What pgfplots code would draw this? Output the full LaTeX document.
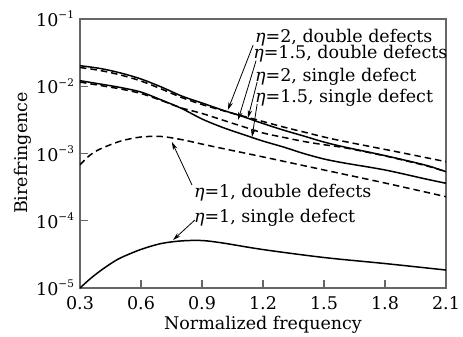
\documentclass[border=0pt]{standalone}
\usepackage{fontspec}
\setmainfont{DejaVu Serif}
\usepackage{pgfplots}
\pgfplotsset{compat=1.18}
\usetikzlibrary{arrows.meta}
\newcommand{\tp}[1]{10\raisebox{0.45em}{\fontsize{10.5}{10.5}\selectfont #1}}
\newcommand{\et}{{\itshape η}}
\begin{document}
\fontsize{17.5}{21}\selectfont
\begin{tikzpicture}
\useasboundingbox (-80pt,-49pt) rectangle (383pt,288pt);
\begin{axis}[
  at={(0pt,0pt)}, anchor=south west,
  scale only axis, width=366pt, height=269pt,
  ymode=log, xmin=0.3, xmax=2.1, ymin=1e-5, ymax=1e-1,
  xtick={0.3,0.6,0.9,1.2,1.5,1.8,2.1},
  xticklabels={0.3,0.6,0.9,1.2,1.5,1.8,2.1},
  ytick={1e-5,1e-4,1e-3,1e-2,1e-1},
  yticklabels={\tp{−5},\tp{−4},\tp{−3},\tp{−2},\tp{−1}},
  yminorticks=false,
  xtick pos=bottom, ytick pos=left,
  tick align=inside, major tick length=8pt,
  axis line style={black!60, line width=1.1pt},
  tick style={black!60, line width=1.1pt},
  xticklabel style={yshift=-2pt},
  xlabel={Normalized frequency}, ylabel={Birefringence},
  xlabel style={at={(axis description cs:0.5,-0.1375)}, anchor=center},
  ylabel style={at={(axis description cs:-0.156,0.502)}, anchor=center},
  clip mode=individual,
]
\pgfplotsset{sol/.style={black, solid, no markers, line width=1.5pt, smooth}, das/.style={black, no markers, line width=1.5pt, smooth, dash pattern=on 6.5pt off 4pt}}
% eta=2, single defect
\addplot[sol] coordinates {(0.3,0.0202) (0.4,0.01837) (0.5,0.01574) (0.6,0.01282) (0.7,0.00975) (0.8,0.00716) (0.9,0.00564) (1.0,0.00443) (1.1,0.00355) (1.2,0.00279) (1.3,0.00223) (1.4,0.00182) (1.5,0.00148) (1.6,0.00125) (1.8,0.00093) (2.0,0.00067) (2.1,0.000536)};
% eta=2, double defects
\addplot[das] coordinates {(0.3,0.0190) (0.4,0.01714) (0.5,0.01469) (0.6,0.01196) (0.7,0.0091) (0.8,0.0068) (0.9,0.00535) (1.0,0.00436) (1.1,0.00361) (1.2,0.00299) (1.3,0.00248) (1.4,0.00209) (1.5,0.00176) (1.6,0.00151) (1.8,0.00115) (2.0,0.00087) (2.1,0.000755)};
% eta=1.5, single defect
\addplot[sol] coordinates {(0.3,0.01211) (0.4,0.01079) (0.5,0.00957) (0.6,0.0082) (0.7,0.00625) (0.8,0.00467) (0.9,0.00326) (1.0,0.00245) (1.1,0.00193) (1.2,0.00153) (1.3,0.00125) (1.4,0.00100) (1.5,0.000828) (1.6,0.000722) (1.8,0.000569) (2.0,0.000418) (2.1,0.000361)};
% eta=1.5, double defects
\addplot[das] coordinates {(0.3,0.01156) (0.4,0.01025) (0.5,0.0091) (0.6,0.0078) (0.7,0.00614) (0.8,0.00475) (0.9,0.00394) (1.0,0.00315) (1.1,0.00252) (1.2,0.00202) (1.3,0.00174) (1.4,0.00151) (1.5,0.00135) (1.6,0.00122) (1.8,0.00092) (2.0,0.00066) (2.1,0.000536)};
% eta=1, double defects
\addplot[das] coordinates {(0.3,0.00068) (0.35,0.00095) (0.4,0.00117) (0.5,0.00153) (0.6,0.00176) (0.7,0.00179) (0.8,0.00161) (0.9,0.00138) (1.0,0.00119) (1.2,0.00089) (1.5,0.000569) (1.8,0.000364) (2.1,0.000228)};
% eta=1, single defect
\addplot[sol] coordinates {(0.3,1.0e-5) (0.35,1.37e-5) (0.4,1.80e-5) (0.45,2.29e-5) (0.5,2.81e-5) (0.6,3.75e-5) (0.7,4.59e-5) (0.8,5.02e-5) (0.9,5.08e-5) (1.0,4.68e-5) (1.2,3.73e-5) (1.5,2.84e-5) (1.8,2.31e-5) (2.1,1.85e-5)};

% annotations
\node[anchor=west, inner sep=0pt] at (rel axis cs:0.478,0.931) {\et=2, double defects};
\node[anchor=west, inner sep=0pt] at (rel axis cs:0.473,0.870) {\et=1.5, double defects};
\node[anchor=west, inner sep=0pt] at (rel axis cs:0.478,0.784) {\et=2, single defect};
\node[anchor=west, inner sep=0pt] at (rel axis cs:0.478,0.706) {\et=1.5, single defect};
\node[anchor=west, inner sep=0pt] at (rel axis cs:0.311,0.353) {\et=1, double defects};
\node[anchor=west, inner sep=0pt] at (rel axis cs:0.311,0.260) {\et=1, single defect};
\begin{scope}[line width=0.8pt, -{Stealth[length=8pt,width=4.5pt]}]
\draw (rel axis cs:0.473,0.903) -- (rel axis cs:0.404,0.662);
\draw (rel axis cs:0.481,0.845) -- (rel axis cs:0.432,0.625);
\draw (rel axis cs:0.484,0.766) -- (rel axis cs:0.459,0.632);
\draw (rel axis cs:0.484,0.684) -- (rel axis cs:0.470,0.561);
\draw (rel axis cs:0.306,0.383) -- (rel axis cs:0.251,0.543);
\draw (rel axis cs:0.314,0.253) -- (rel axis cs:0.254,0.178);
\end{scope}
\end{axis}
\end{tikzpicture}
\end{document}
